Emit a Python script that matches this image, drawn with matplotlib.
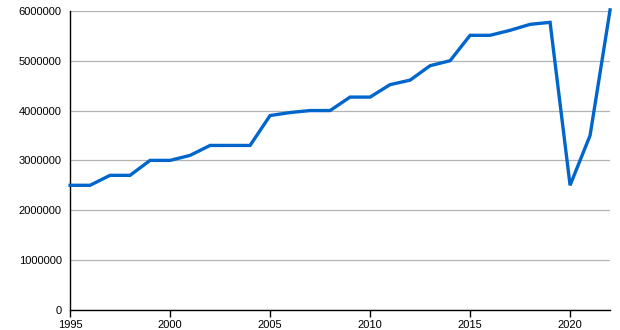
import matplotlib
matplotlib.use("Agg")
import matplotlib.pyplot as plt
from matplotlib.ticker import FuncFormatter

years = list(range(1995, 2023))
values = [2500000, 2500000, 2700000, 2700000, 3000000, 3000000, 3100000,
          3300000, 3300000, 3300000, 3900000, 3960000, 4000000, 4000000,
          4270000, 4270000, 4520000, 4610000, 4900000, 5000000, 5510000,
          5510000, 5610000, 5730000, 5770000, 2500000, 3500000, 6020000]
x_ticks = [1995, 2000, 2005, 2010, 2015, 2020]
y_ticks = [0, 1000000, 2000000, 3000000, 4000000, 5000000, 6000000]

plt.rcParams["font.family"] = ["Liberation Sans", "DejaVu Sans"]

fig = plt.figure(figsize=(6.2, 3.3), dpi=100)
ax = fig.add_axes([0.113, 0.061, 0.871, 0.906])

ax.plot(years, values, color="#0066cc", linewidth=2.4, clip_on=False,
        solid_joinstyle="miter", zorder=3)

ax.set_xlim(1995, 2022)
ax.set_ylim(0, 6000000)
ax.set_xticks(x_ticks)
ax.set_yticks(y_ticks)
ax.yaxis.set_major_formatter(FuncFormatter(lambda v, p: f"{int(v)}"))
ax.grid(axis="y", color="#b3b3b3", linewidth=0.9)
ax.set_axisbelow(True)

for side in ("top", "right"):
    ax.spines[side].set_visible(False)
ax.spines["left"].set_linewidth(1.0)
ax.spines["bottom"].set_linewidth(1.0)

ax.tick_params(axis="x", length=5, width=1, labelsize=8, pad=2)
ax.tick_params(axis="y", length=0, labelsize=8, pad=6)

fig.savefig("out.png", dpi=100)
